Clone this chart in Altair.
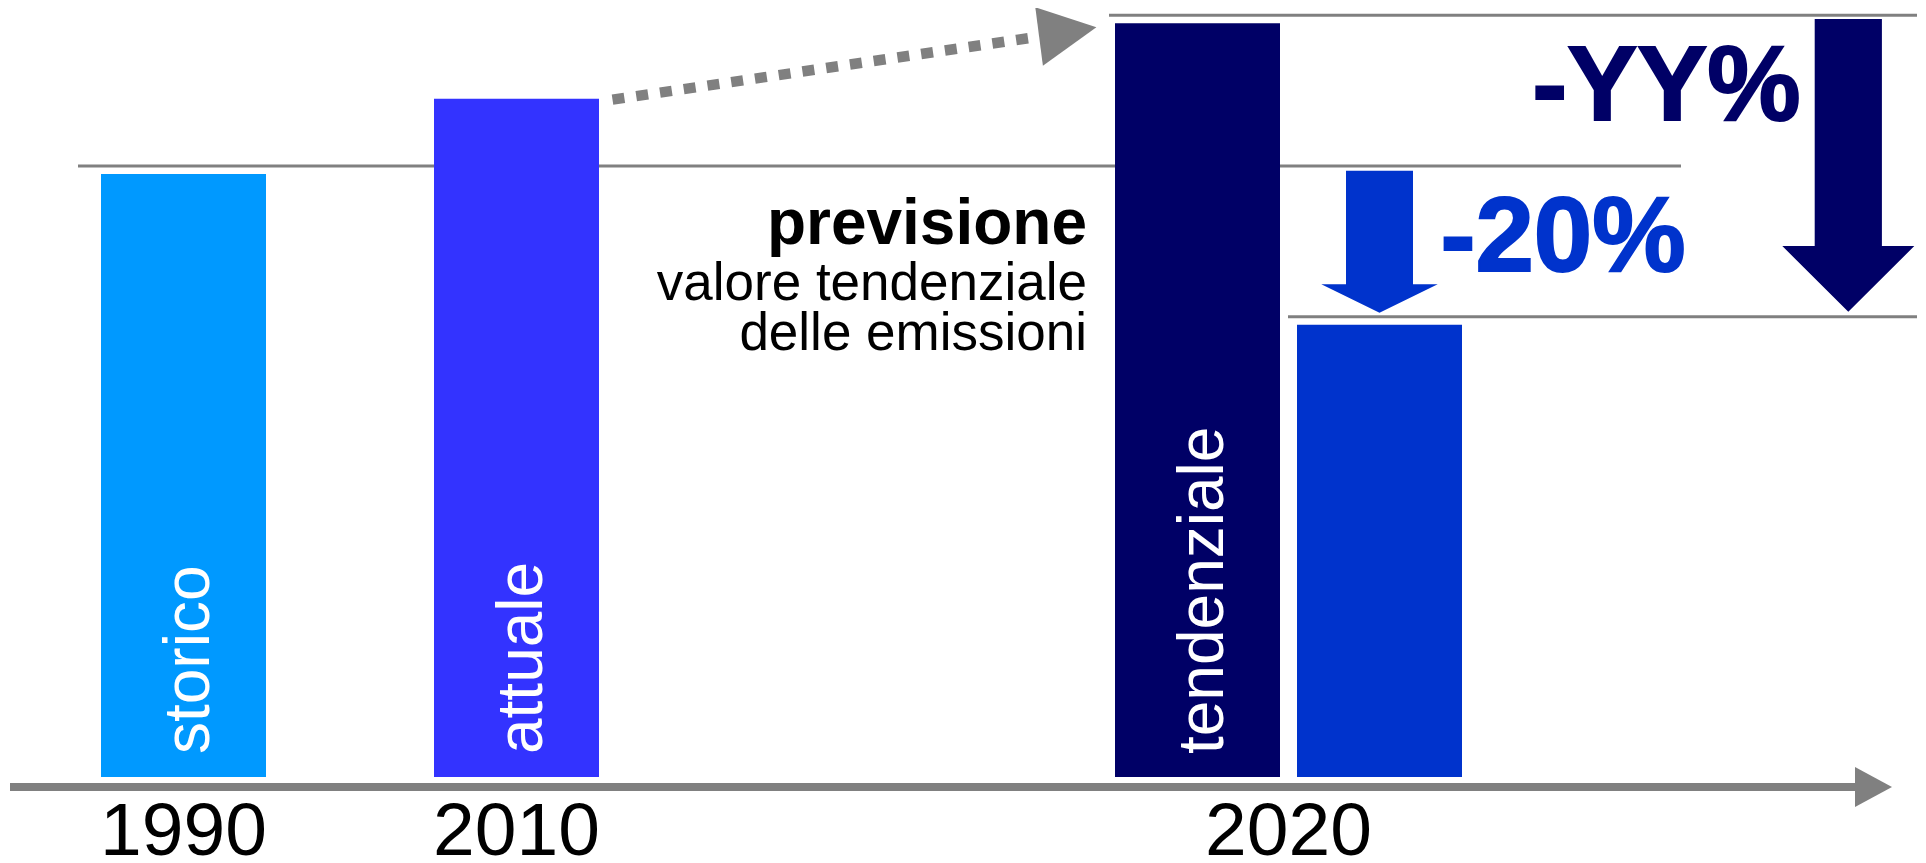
import altair as alt
import pandas as pd

# ---------------- data ----------------
bar_keys = ["storico", "attuale", "tendenziale", "obiettivo"]
bar_years = ["1990", "2010", "2020", "2020"]
bar_values = [100.0, 112.5, 125.0, 75.0]          # emissions, 1990 = 100
bar_texts = ["storico", "attuale", "tendenziale", ""]
bar_colors = ["#0099FF", "#3333FF", "#000066", "#0033CC"]
year_labels = ["1990", "2010", "2020"]
cut_labels = ["-20%", "-YY%"]
note_lines = ["previsione", "valore tendenziale", "delle emissioni"]

# ---------------- layout ----------------
W, H = 1910, 855
PX = 6.03            # pixels per emission unit
BASE = 769           # pixel row of value 0
BAR_W = 165
bar_centers = [175.5, 508.5, 1189.5, 1371.5]
GREY = "#808080"
FONT = "Liberation Sans"
NAVY, BLUE = bar_colors[2], bar_colors[3]


def ypx(v):
    return BASE - v * PX


def val(py):
    return (BASE - py) / PX


xs = alt.Scale(domain=[0, W], nice=False, zero=False)
ys = alt.Scale(domain=[val(H), val(0)], nice=False, zero=False)


def X(f):
    return alt.X(f"{f}:Q", scale=xs, axis=None)


def Y(f):
    return alt.Y(f"{f}:Q", scale=ys, axis=None)


lv = dict(zip(bar_keys, bar_values))
bars = pd.DataFrame({"key": bar_keys, "year": bar_years, "value": bar_values,
                     "text": bar_texts, "color": bar_colors, "xc": bar_centers})
bars["x0"] = bars.xc - BAR_W / 2
bars["x1"] = bars.xc + BAR_W / 2
bars["base"] = 0.0

bar_layer = alt.Chart(bars).mark_bar().encode(
    x=X("x0"), x2="x1", y=Y("value"), y2="base",
    color=alt.Color("color:N", scale=None))

lab_layer = alt.Chart(bars[bars.text != ""]).mark_text(
    angle=270, align="left", baseline="alphabetic", fontSize=64, font=FONT,
    color="white", xOffset=25.5, yOffset=-23).encode(
    x=X("xc"), y=Y("base"), text="text:N")

yrs = bars.groupby("year", sort=False).xc.mean().reindex(year_labels).reset_index()
yrs["base"] = 0.0
year_layer = alt.Chart(yrs).mark_text(
    align="center", baseline="alphabetic", fontSize=75, font=FONT,
    color="black", yOffset=78).encode(x=X("xc"), y=Y("base"), text="year:N")

# reference levels
levels = pd.DataFrame([
    {"x0": bar_centers[0] - 105.5, "x1": 1673, "y": lv["storico"]},
    {"x0": bar_centers[2] - 88.5, "x1": W - 1, "y": lv["tendenziale"]},
    {"x0": bar_centers[3] - 91.5, "x1": W - 1, "y": lv["obiettivo"]},
])
level_layer = alt.Chart(levels).mark_rule(strokeWidth=3, color=GREY, yOffset=-8).encode(
    x=X("x0"), x2="x1", y=Y("y"))

# time axis
axis_y = ypx(0) + 10
axis_df = pd.DataFrame([{"x0": 2, "x1": 1847, "y": val(axis_y)}])
axis_layer = alt.Chart(axis_df).mark_rule(strokeWidth=8, color=GREY, strokeCap="butt").encode(
    x=X("x0"), x2="x1", y=Y("y"))

# dashed trend arrow from attuale to tendenziale
s_x = bar_centers[1] + BAR_W / 2 + 13.5
s_y = ypx(lv["attuale"]) + 1
e_x, e_y = 1020, ypx(lv["tendenziale"]) + 15
dash_df = pd.DataFrame([{"x": s_x, "y": val(s_y)}, {"x": e_x, "y": val(e_y)}])
dash_layer = alt.Chart(dash_df).mark_line(
    strokeDash=[12, 12], strokeWidth=10.5, color=GREY, strokeCap="butt").encode(
    x=X("x"), y=Y("y"))


def poly(points, color):
    px_ = [p[0] for p in points]
    py_ = [p[1] for p in points]
    cx = (min(px_) + max(px_)) / 2
    cy = (min(py_) + max(py_)) / 2
    half = 50.0
    path = "M" + " L".join(f"{(x - cx) / half:.4f},{(y - cy) / half:.4f}" for x, y in points) + " Z"
    return {"cx": cx, "cy": val(cy), "path": path, "size": (2 * half) ** 2, "color": color}


def down_arrow(cx, top, tip, shaft_half, head_half, head_depth, color):
    hb = tip - head_depth
    pts = [(cx - shaft_half, top), (cx + shaft_half, top), (cx + shaft_half, hb),
           (cx + head_half, hb), (cx, tip), (cx - head_half, hb), (cx - shaft_half, hb)]
    return poly(pts, color)


t_top = ypx(lv["tendenziale"])
polys = pd.DataFrame([
    # trend arrow head
    poly([(1027.3, t_top - 16), (1088.4, t_top + 4), (1034.9, t_top + 42.5)], GREY),
    # axis arrow head
    poly([(1847, axis_y - 20), (1884, axis_y), (1847, axis_y + 20)], GREY),
    # -20% arrow
    down_arrow(bar_centers[3], ypx(lv["storico"]) - 3.3, ypx(lv["obiettivo"]) - 12,
               33.5, 58.2, 28.4, BLUE),
    # -YY% arrow
    down_arrow(1840.3, ypx(lv["tendenziale"]) - 4.2, ypx(lv["obiettivo"]) - 13,
               33.6, 66, 65.7, NAVY),
])
poly_layer = alt.Chart(polys).mark_point(filled=True, opacity=1, strokeWidth=0).encode(
    x=X("cx"), y=Y("cy"),
    shape=alt.Shape("path:N", scale=None),
    size=alt.Size("size:Q", scale=None),
    color=alt.Color("color:N", scale=None))

# texts
note_bold = pd.DataFrame([{"x": 1079, "y": val(236), "t": note_lines[0]}])
note_reg = pd.DataFrame([{"x": 1079, "y": val(292), "t": note_lines[1]},
                         {"x": 1079, "y": val(342), "t": note_lines[2]}])
bold_layer = alt.Chart(note_bold).mark_text(
    align="right", baseline="alphabetic", fontSize=64, fontWeight="bold",
    font=FONT, color="black").encode(x=X("x"), y=Y("y"), text="t:N")
reg_layer = alt.Chart(note_reg).mark_text(
    align="right", baseline="alphabetic", fontSize=53, font=FONT,
    color="black").encode(x=X("x"), y=Y("y"), text="t:N")

cuts = pd.DataFrame([
    {"x": 1555, "y": val(263), "t": cut_labels[0], "color": BLUE},
    {"x": 1658.5, "y": val(112), "t": cut_labels[1], "color": NAVY},
])
cut_layer = alt.Chart(cuts).mark_text(
    align="center", baseline="alphabetic", fontSize=105, fontWeight="bold",
    font=FONT, strokeWidth=2).encode(
    x=X("x"), y=Y("y"), text="t:N",
    color=alt.Color("color:N", scale=None),
    stroke=alt.Stroke("color:N", scale=None))

chart = alt.layer(
    level_layer, bar_layer, lab_layer, year_layer, axis_layer, dash_layer,
    poly_layer, bold_layer, reg_layer, cut_layer,
).properties(
    width=W, height=H, padding=0, autosize="none", background="white"
).configure_view(stroke=None)

chart.save("out.html", embed_options={"renderer": "svg", "actions": False})
